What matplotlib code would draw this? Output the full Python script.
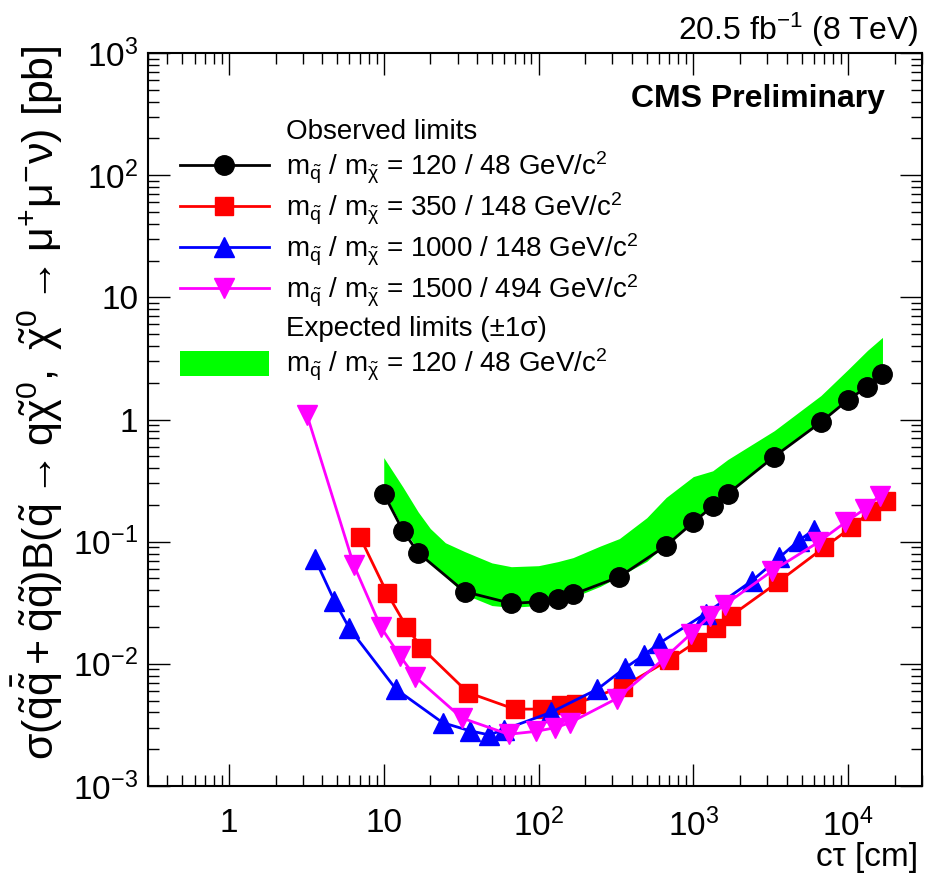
import math
import matplotlib
matplotlib.use("Agg")
import matplotlib.pyplot as plt
from matplotlib.ticker import FixedLocator, FuncFormatter, LogLocator, NullFormatter
from matplotlib.lines import Line2D
from matplotlib.patches import Patch

plt.rcParams["font.family"] = ["Liberation Sans", "DejaVu Sans"]
plt.rcParams["mathtext.fontset"] = "custom"
plt.rcParams["mathtext.rm"] = "Liberation Sans"
plt.rcParams["mathtext.it"] = "Liberation Sans:italic"
plt.rcParams["mathtext.bf"] = "Liberation Sans:bold"
plt.rcParams["mathtext.default"] = "regular"

# m_squark / m_chi = 120 / 48, observed
black_ct = [10, 13.3, 16.7, 33.3, 66.7, 100, 133, 167, 333, 667,
            1000, 1333, 1667, 3333, 6667, 10000, 13333, 16667]
black_obs = [0.246, 0.123, 0.081, 0.039, 0.0312, 0.0322, 0.0339, 0.037, 0.0516, 0.0927,
             0.144, 0.195, 0.246, 0.497, 0.95, 1.45, 1.86, 2.34]

# 120 / 48, expected +-1 sigma band
band_ct = [10, 13.3, 16.7, 20, 25, 33.3, 50, 66.7, 100, 133, 167, 250, 333, 500, 667,
           1000, 1333, 1667, 3333, 6667, 10000, 13333, 16667]
exp_lo = [0.25, 0.13, 0.085, 0.066, 0.052, 0.037, 0.030, 0.029, 0.030, 0.032, 0.035, 0.043,
          0.052, 0.069, 0.096, 0.15, 0.2, 0.25, 0.51, 0.98, 1.5, 1.95, 2.5]
exp_hi = [0.488, 0.28, 0.175, 0.128, 0.098, 0.083, 0.067, 0.0624, 0.0636, 0.0686, 0.074, 0.092,
          0.106, 0.157, 0.23, 0.341, 0.38, 0.47, 0.81, 1.57, 2.57, 3.68, 4.7]

# 350 / 148
red_ct = [7, 10.5, 14, 17.5, 35, 70, 105, 140, 175, 350,
          700, 1050, 1400, 1750, 3500, 7000, 10500, 14000, 17500]
red_obs = [0.110, 0.038, 0.0202, 0.0136, 0.00582, 0.00426, 0.00426, 0.00461, 0.00473, 0.0065,
           0.0108, 0.0152, 0.0196, 0.0247, 0.0464, 0.0898, 0.131, 0.177, 0.217]

# 1000 / 148
blue_ct = [3.6, 4.8, 6, 12, 24, 36, 48, 60, 120, 240,
           360, 480, 600, 1200, 2400, 3600, 4800, 6000]
blue_obs = [0.0722, 0.0328, 0.0195, 0.0062, 0.0033, 0.00283, 0.00262, 0.0029, 0.0040, 0.0062,
            0.0092, 0.0118, 0.0147, 0.0258, 0.048, 0.0743, 0.102, 0.125]

# 1500 / 494
mag_ct = [3.2, 6.4, 9.6, 12.8, 16, 32, 64, 96, 128, 160,
          320, 640, 960, 1280, 1600, 3200, 6400, 9600, 12800, 16000]
mag_obs = [1.08, 0.0645, 0.0199, 0.0115, 0.0078, 0.0036, 0.00265, 0.0028, 0.0030, 0.0033,
           0.0052, 0.0109, 0.0175, 0.0247, 0.0305, 0.0571, 0.0987, 0.144, 0.185, 0.238]

labels = [
    "Observed limits",
    r"m$_{\tilde{q}}$ / m$_{\tilde{\chi}}$ = 120 / 48 GeV/c$^{2}$",
    r"m$_{\tilde{q}}$ / m$_{\tilde{\chi}}$ = 350 / 148 GeV/c$^{2}$",
    r"m$_{\tilde{q}}$ / m$_{\tilde{\chi}}$ = 1000 / 148 GeV/c$^{2}$",
    r"m$_{\tilde{q}}$ / m$_{\tilde{\chi}}$ = 1500 / 494 GeV/c$^{2}$",
    "Expected limits (±1σ)",
    r"m$_{\tilde{q}}$ / m$_{\tilde{\chi}}$ = 120 / 48 GeV/c$^{2}$",
]

fig = plt.figure(figsize=(9.3, 8.85), dpi=100)
ax = fig.add_axes([148 / 930, 1 - 786 / 885, (922 - 148) / 930, (786 - 53) / 885])

ax.fill_between(band_ct, exp_lo, exp_hi, color="#00ff00", lw=0)
l1, = ax.plot(black_ct, black_obs, "o-", color="black", ms=14, lw=2)
l2, = ax.plot(red_ct, red_obs, "s-", color="#ff0000", ms=13, lw=2)
l3, = ax.plot(blue_ct, blue_obs, "^-", color="#0000ff", ms=14, lw=2)
l4, = ax.plot(mag_ct, mag_obs, "v-", color="#ff00ff", ms=14, lw=2)

ax.set_xscale("log")
ax.set_yscale("log")
ax.set_xlim(0.3, 3e4)
ax.set_ylim(1e-3, 1e3)


def log_label(v, pos):
    if abs(v - 1) < 1e-9:
        return "1"
    if abs(v - 10) < 1e-9:
        return "10"
    return r"$10^{%d}$" % int(round(math.log10(v)))


ax.xaxis.set_major_locator(FixedLocator([1, 10, 100, 1000, 10000]))
ax.yaxis.set_major_locator(FixedLocator([1e-3, 1e-2, 1e-1, 1, 10, 100, 1000]))
ax.xaxis.set_minor_locator(LogLocator(base=10, subs=range(2, 10), numticks=20))
ax.yaxis.set_minor_locator(LogLocator(base=10, subs=range(2, 10), numticks=20))
ax.xaxis.set_major_formatter(FuncFormatter(log_label))
ax.yaxis.set_major_formatter(FuncFormatter(log_label))
ax.xaxis.set_minor_formatter(NullFormatter())
ax.yaxis.set_minor_formatter(NullFormatter())
ax.tick_params(which="both", direction="in", top=True, right=True, width=1, labelsize=24)
ax.tick_params(which="major", length=16)
ax.tick_params(which="minor", length=8)
ax.tick_params(axis="x", pad=16)
ax.tick_params(axis="y", pad=7)
for s in ax.spines.values():
    s.set_linewidth(1.5)

blank = Line2D([], [], color="none")
band = Patch(facecolor="#00ff00", edgecolor="none")
ax.legend([blank, l1, l2, l3, l4, blank, band], labels,
          loc="upper left", bbox_to_anchor=(180 / 930, 1 - 117 / 885),
          bbox_transform=fig.transFigure, frameon=False, fontsize=20,
          borderpad=0, borderaxespad=0, handlelength=3.2, handleheight=1.0,
          handletextpad=0.6, labelspacing=0.18, numpoints=1)

fig.text(918 / 930, 1 - 40 / 885, r"20.5 fb$^{-1}$ (8 TeV)", ha="right", va="baseline", fontsize=23)
fig.text(885 / 930, 1 - 107 / 885, "CMS Preliminary", ha="right", va="baseline",
         fontsize=23, weight="bold")
fig.text(918 / 930, 1 - 866 / 885, "cτ [cm]", ha="right", va="baseline", fontsize=24)
fig.text(37 / 930, 1 - 45 / 885,
         r"$\sigma(\tilde{q}\bar{\tilde{q}}+\tilde{q}\tilde{q})B(\tilde{q}\rightarrow q\tilde{\chi}^{0},\ "
         r"\tilde{\chi}^{0}\rightarrow \mu^{+}\mu^{-}\nu)$ [pb]",
         rotation=90, ha="center", va="top", fontsize=31)

fig.savefig("out.png", dpi=100)
